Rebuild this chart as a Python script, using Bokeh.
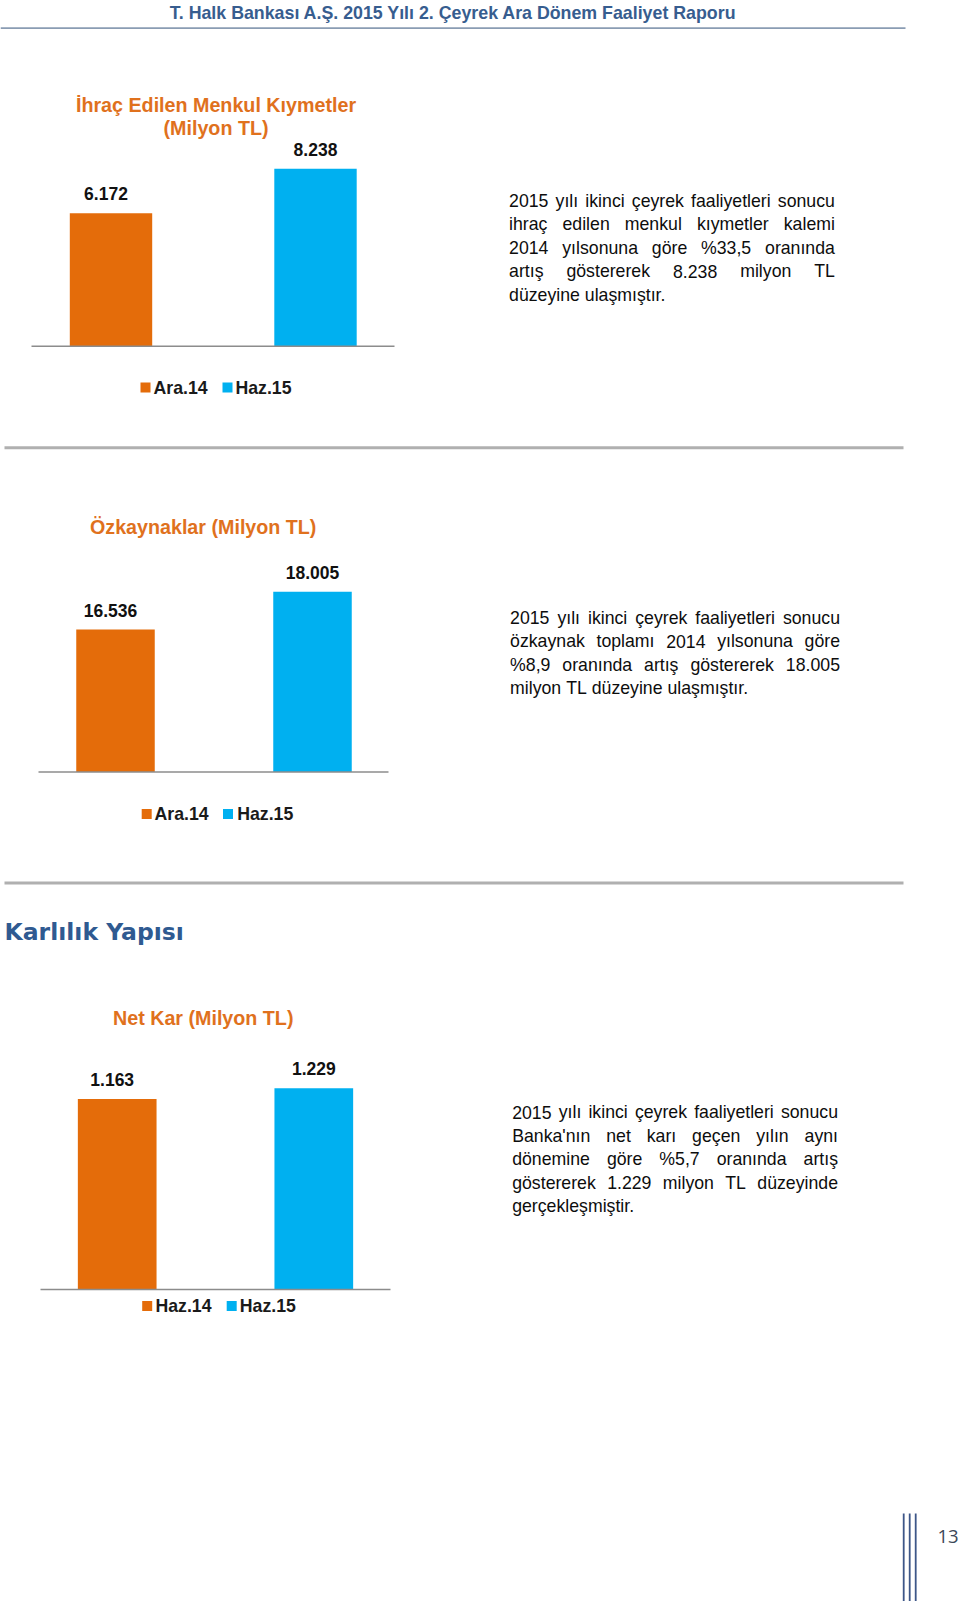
from bokeh.plotting import figure
from bokeh.models import Range1d
from bokeh.core.properties import value
from bokeh.embed import file_html
from bokeh.resources import INLINE

# ---------------- data ----------------
header_title = "T. Halk Bankası A.Ş. 2015 Yılı 2. Çeyrek Ara Dönem Faaliyet Raporu"
section_heading = "Karlılık Yapısı"
page_number = "13"

c1_title = ["İhraç Edilen Menkul Kıymetler", "(Milyon TL)"]
c1_categories = ["Ara.14", "Haz.15"]
c1_values = [6172, 8238]
c1_text = [
    "2015 yılı ikinci çeyrek faaliyetleri sonucu",
    "ihraç edilen menkul kıymetler kalemi",
    "2014 yılsonuna göre %33,5 oranında",
    "artış göstererek 8.238 milyon TL",
    "düzeyine ulaşmıştır.",
]

c2_title = ["Özkaynaklar (Milyon TL)"]
c2_categories = ["Ara.14", "Haz.15"]
c2_values = [16536, 18005]
c2_axis_min = 11000
c2_text = [
    "2015 yılı ikinci çeyrek faaliyetleri sonucu",
    "özkaynak toplamı 2014 yılsonuna göre",
    "%8,9 oranında artış göstererek 18.005",
    "milyon TL düzeyine ulaşmıştır.",
]

c3_title = ["Net Kar (Milyon TL)"]
c3_categories = ["Haz.14", "Haz.15"]
c3_values = [1163, 1229]
c3_text = [
    "2015 yılı ikinci çeyrek faaliyetleri sonucu",
    "Banka'nın net karı geçen yılın aynı",
    "dönemine göre %5,7 oranında artış",
    "göstererek 1.229 milyon TL düzeyinde",
    "gerçekleşmiştir.",
]

# ---------------- style ----------------
BAR_COLORS = ["#e46c0a", "#00b0f0"]
TITLE_COLOR = "#e0711d"
HEAD_BLUE = "#375d8f"
SANS = value("Liberation Sans")

W, H = 960, 1601
p = figure(width=W, height=H, x_range=Range1d(0, W), y_range=Range1d(H, 0),
           output_backend="svg", toolbar_location=None, min_border=0,
           x_axis_location=None, y_axis_location=None)
p.grid.visible = False
p.outline_line_color = None
p.background_fill_color = "white"
p.border_fill_color = "white"

# Arial / Liberation Sans advance widths (1/1000 em)
AW = {' ': 278, '%': 889, "'": 191, ',': 278, '.': 278,
      'a': 556, 'b': 556, 'c': 500, 'd': 556, 'e': 556, 'f': 278, 'g': 556, 'h': 556,
      'i': 222, 'j': 222, 'k': 500, 'l': 222, 'm': 833, 'n': 556, 'o': 556, 'p': 556,
      'q': 556, 'r': 333, 's': 500, 't': 278, 'u': 556, 'v': 500, 'w': 722, 'x': 500,
      'y': 500, 'z': 500, 'ı': 278, 'ş': 500, 'ç': 500, 'ö': 556, 'ü': 556, 'ğ': 556,
      'B': 667, 'T': 611, 'L': 556}
for d in "0123456789":
    AW[d] = 556


def tw(s, size):
    return sum(AW.get(ch, 556) for ch in s) / 1000.0 * size


def justify(lines, left, right, base, step, size):
    xs, ys, ts = [], [], []
    for i, line in enumerate(lines):
        words = line.split(" ")
        widths = [tw(w, size) for w in words]
        y = base + i * step
        if i < len(lines) - 1 and len(words) > 1:
            gap = (right - left - sum(widths)) / (len(words) - 1)
        else:
            gap = tw(" ", size)
        x = left
        for w, wd in zip(words, widths):
            xs.append(x)
            ys.append(y)
            ts.append(w)
            x += wd + gap
    return xs, ys, ts


def fmt(v):
    return f"{v:,}".replace(",", ".")


# ---------------- header ----------------
p.text(x=[453], y=[12.5], text=[header_title], text_font=SANS, text_font_style="bold",
       text_font_size="17.8px", text_color=HEAD_BLUE, text_align="center",
       text_baseline="alphabetic")
p.segment(x0=[0], y0=[27.6], x1=[905], y1=[27.6], line_color="#8a9cb3", line_width=1.6)

# separators
p.segment(x0=[4, 4], y0=[447.3, 882.4], x1=[903, 903], y1=[447.3, 882.4],
          line_color="#b0b0b0", line_width=3)

# section heading
p.text(x=[4], y=[931], text=[section_heading], text_font=value("DejaVu Sans"),
       text_font_style="bold", text_font_size="23.5px", text_color="#2f5a91",
       text_align="left", text_baseline="alphabetic")

# ---------------- charts ----------------
charts = [
    dict(name="c1", title=c1_title, cats=c1_categories, vals=c1_values, vmin=0,
         centers=(110.5, 315.0), bw=82.4, base=345.7, scale=0.02154,
         axis=(31, 394), title_x=215.5, title_y=104.0,
         leg_sq=(145.0, 227.0), leg_tx=(153.0, 235.0), leg_y=387.0,
         text=c1_text, tl=508.6, tr=834.4, tb=200.3),
    dict(name="c2", title=c2_title, cats=c2_categories, vals=c2_values, vmin=c2_axis_min,
         centers=(115.0, 312.0), bw=78.5, base=771.6, scale=0.02574,
         axis=(38, 388), title_x=202.7, title_y=526.0,
         leg_sq=(146.2, 227.5), leg_tx=(154.0, 236.7), leg_y=813.5,
         text=c2_text, tl=509.6, tr=839.5, tb=617.3),
    dict(name="c3", title=c3_title, cats=c3_categories, vals=c3_values, vmin=0,
         centers=(116.7, 313.3), bw=78.7, base=1289.0, scale=0.16385,
         axis=(40, 390), title_x=202.7, title_y=1017.5,
         leg_sq=(146.7, 231.2), leg_tx=(155.0, 239.3), leg_y=1305.5,
         text=c3_text, tl=511.7, tr=837.5, tb=1111.6),
]

for c in charts:
    c0, c1 = c["centers"]
    step = c1 - c0
    xr = Range1d(-c0 / step, (W - c0) / step)
    yr = Range1d(c["vmin"] + (c["base"] - H) / c["scale"], c["vmin"] + c["base"] / c["scale"])
    p.extra_x_ranges[c["name"]] = xr
    p.extra_y_ranges[c["name"]] = yr
    idx = list(range(len(c["vals"])))

    # title
    p.text(x=[c["title_x"]] * len(c["title"]),
           y=[c["title_y"] + 23.5 * i for i in range(len(c["title"]))],
           text=c["title"], text_font=SANS, text_font_style="bold",
           text_font_size="19.7px", text_color=TITLE_COLOR, text_align="center",
           text_baseline="alphabetic")

    # bars
    p.vbar(x=idx, width=c["bw"] / step, top=c["vals"], bottom=c["vmin"],
           fill_color=BAR_COLORS[:len(idx)], line_color=None,
           x_range_name=c["name"], y_range_name=c["name"])

    # value labels
    p.text(x=idx, y=c["vals"], text=[fmt(v) for v in c["vals"]],
           x_offset=[-5, 0], y_offset=-19.5,
           text_font=SANS, text_font_style="bold", text_font_size="17.5px",
           text_color="#111111", text_align="center", text_baseline="alphabetic",
           x_range_name=c["name"], y_range_name=c["name"])

    # category axis line
    a0, a1 = c["axis"]
    p.segment(x0=[a0], y0=[c["base"]], x1=[a1], y1=[c["base"]],
              line_color="#8c8c8c", line_width=1.5)

    # legend
    ly = c["leg_y"]
    p.rect(x=list(c["leg_sq"]), y=[ly, ly], width=10, height=10,
           fill_color=BAR_COLORS[:len(idx)], line_color=None)
    p.text(x=list(c["leg_tx"]), y=[ly + 0.3, ly + 0.3], text=c["cats"],
           text_font=SANS, text_font_style="bold", text_font_size="17.7px",
           text_color="#1a1a1a", text_align="left", text_baseline="alphabetic")

    # paragraph
    xs, ys, ts = justify(c["text"], c["tl"], c["tr"], c["tb"], 23.5, 17.7)
    p.text(x=xs, y=ys, text=ts, text_font=SANS, text_font_size="17.7px",
           text_color="#0d0d0d", text_align="left", text_baseline="alphabetic")

# ---------------- page number ----------------
p.segment(x0=[903.2, 909.2, 915.2], y0=[1513, 1513, 1513],
          x1=[903.2, 909.2, 915.2], y1=[1601, 1601, 1601],
          line_color="#3d5688", line_width=1.8)
p.text(x=[947.5], y=[1536], text=[page_number], text_font=value("Open Sans"),
       text_font_size="18.5px", text_color="#3b4859", text_align="center",
       text_baseline="alphabetic")

open("out.html", "w").write(file_html(p, INLINE))
